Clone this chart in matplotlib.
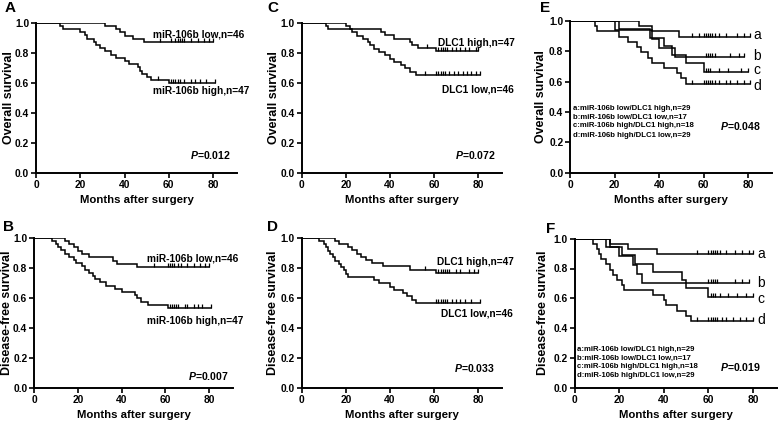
import numpy as np
import matplotlib
matplotlib.use("Agg")
import matplotlib.pyplot as plt
from matplotlib.path import Path

plt.rcParams['font.family'] = ['Liberation Sans', 'DejaVu Sans']
plt.rcParams['mathtext.fontset'] = 'custom'
plt.rcParams['mathtext.it'] = 'Liberation Sans:italic:bold'
plt.rcParams['mathtext.rm'] = 'Liberation Sans:bold'

# ---------------- data ----------------
# Panel A : overall survival by miR-106b
A_low_t = [31, 36, 38, 40, 44, 49]
A_low_s = [0.978, 0.957, 0.935, 0.913, 0.891, 0.870]
A_low_c = [56, 61, 63, 64, 65, 66, 67, 70, 73, 76, 78, 80]
A_high_t = [11, 12, 20, 22, 23, 26, 27, 29, 31, 34, 36, 40, 42, 46, 47, 48, 50, 52, 60]
A_high_s = [0.979, 0.957, 0.936, 0.915, 0.894, 0.872, 0.851, 0.830, 0.809, 0.787,
            0.766, 0.745, 0.723, 0.702, 0.681, 0.660, 0.638, 0.617, 0.596]
A_high_c = [55, 61, 62, 63, 64, 65, 67, 70, 72, 74, 77, 81]

# Panel B : disease-free survival by miR-106b
B_low_t = [14, 16, 18, 20, 22, 25, 36, 38, 47]
B_low_s = [0.978, 0.957, 0.935, 0.913, 0.891, 0.870, 0.848, 0.826, 0.804]
B_low_c = [55, 61, 62, 63, 64, 66, 67, 70, 73, 76, 78, 80]
B_high_t = [8, 10, 11, 12, 14, 16, 18, 19, 22, 23, 25, 27, 28, 30, 33, 37, 40, 46,
            47, 49, 52, 61]
B_high_s = [0.979, 0.957, 0.936, 0.915, 0.894, 0.872, 0.851, 0.830, 0.809, 0.787,
            0.766, 0.745, 0.723, 0.702, 0.681, 0.660, 0.638, 0.617, 0.596, 0.574,
            0.553, 0.532]
B_high_c = [62, 63, 64, 65, 66, 69, 70, 73, 75, 77, 81]

# Panel C : overall survival by DLC1
C_high_t = [20, 22, 36, 38, 42, 49, 50, 53, 61]
C_high_s = [0.979, 0.957, 0.936, 0.915, 0.894, 0.872, 0.851, 0.830, 0.809]
C_high_c = [57, 62, 63, 64, 65, 66, 68, 70, 72, 74, 76, 79, 80]
C_low_t = [11, 12, 23, 25, 28, 30, 31, 33, 35, 38, 40, 42, 45, 47, 49, 52]
C_low_s = [0.978, 0.957, 0.935, 0.913, 0.891, 0.870, 0.848, 0.826, 0.804, 0.783,
           0.761, 0.739, 0.717, 0.696, 0.674, 0.652]
C_low_c = [56, 61, 62, 63, 64, 65, 67, 69, 71, 73, 75, 77, 79, 81]

# Panel D : disease-free survival by DLC1
D_high_t = [15, 17, 21, 23, 25, 27, 29, 32, 37, 49, 61]
D_high_s = [0.979, 0.957, 0.936, 0.915, 0.894, 0.872, 0.851, 0.830, 0.809, 0.787, 0.766]
D_high_c = [56, 62, 63, 64, 65, 66, 67, 70, 72, 76, 78, 80]
D_low_t = [8, 10, 11, 12, 13, 14, 15, 17, 18, 19, 20, 21, 33, 35, 40, 42, 46, 48, 50, 52]
D_low_s = [0.978, 0.957, 0.935, 0.913, 0.891, 0.870, 0.848, 0.826, 0.804, 0.783,
           0.761, 0.739, 0.717, 0.696, 0.674, 0.652, 0.630, 0.609, 0.587, 0.565]
D_low_c = [61, 62, 63, 64, 65, 66, 68, 70, 72, 74, 77, 81]

# Panel E : overall survival, combined groups
E_a_t = [31, 37, 49]
E_a_s = [0.966, 0.931, 0.897]
E_a_c = [55, 58, 60, 61, 62, 63, 64, 65, 67, 70, 75, 78, 81]
E_b_t = [20, 37, 40, 47]
E_b_s = [0.941, 0.882, 0.824, 0.765]
E_b_c = [61, 62, 63, 64, 65, 72, 76, 78]
E_c_t = [22, 36, 42, 46, 52, 60]
E_c_s = [0.944, 0.889, 0.833, 0.778, 0.722, 0.667]
E_c_c = [61, 62, 63, 67, 71, 77, 80]
E_d_t = [11, 12, 22, 26, 30, 32, 35, 37, 42, 48, 50, 52]
E_d_s = [0.966, 0.931, 0.897, 0.862, 0.828, 0.793, 0.759, 0.724, 0.690, 0.655, 0.621, 0.586]
E_d_c = [55, 60, 61, 62, 63, 64, 65, 67, 70, 72, 75, 78, 81]

# Panel F : disease-free survival, combined groups
F_a_t = [16, 24, 37]
F_a_s = [0.966, 0.931, 0.897]
F_a_c = [55, 60, 61, 62, 63, 64, 65, 68, 72, 75, 78, 80]
F_b_t = [14, 20, 26, 28, 30]
F_b_s = [0.941, 0.882, 0.824, 0.765, 0.706]
F_b_c = [60, 61, 62, 63, 64, 72, 75, 78]
F_c_t = [16, 21, 27, 35, 48, 50, 60]
F_c_s = [0.944, 0.889, 0.833, 0.778, 0.722, 0.667, 0.611]
F_c_c = [61, 62, 63, 65, 69, 73, 77, 80]
F_d_t = [8, 10, 11, 12, 14, 16, 17, 19, 21, 22, 35, 40, 41, 46, 50, 52]
F_d_s = [0.966, 0.931, 0.897, 0.862, 0.828, 0.793, 0.759, 0.724, 0.690, 0.655,
         0.621, 0.586, 0.552, 0.517, 0.483, 0.448]
F_d_c = [55, 60, 61, 62, 63, 64, 66, 68, 71, 74, 77, 80]

x_ticks = [0, 20, 40, 60, 80]
y_ticks = [0.0, 0.2, 0.4, 0.6, 0.8, 1.0]
xlabel = "Months after surgery"
combo_legend = ["a:miR-106b low/DLC1 high,n=29",
                "b:miR-106b low/DLC1 low,n=17",
                "c:miR-106b high/DLC1 high,n=18",
                "d:miR-106b high/DLC1 low,n=29"]

# ---------------- drawing ----------------
W, H = 778, 424
fig = plt.figure(figsize=(W / 100, H / 100), dpi=100)

CENSOR = Path([(0, 0), (0, 1)])


def make_ax(x0, x80, ytop, ybot, ylabel, ylab_off, xmax=91):
    ppm = (x80 - x0) / 80.0
    width = ppm * xmax
    ax = fig.add_axes([x0 / W, 1 - ybot / H, width / W, (ybot - ytop) / H])
    ax.set_xlim(0, xmax)
    ax.set_ylim(0, 1.0)
    for s in ['top', 'right']:
        ax.spines[s].set_visible(False)
    for s in ['left', 'bottom']:
        ax.spines[s].set_linewidth(1.4)
    ax.set_xticks(x_ticks)
    ax.set_yticks(y_ticks)
    ax.set_yticklabels([f"{v:.1f}" for v in y_ticks])
    ax.tick_params(direction='out', length=3.5, width=1.2, labelsize=7.4, pad=1.5)
    for lab in ax.get_xticklabels() + ax.get_yticklabels():
        lab.set_fontweight('bold')
    ax.set_xlabel(xlabel, fontsize=8.2, fontweight='bold', labelpad=4)
    ax.set_ylabel(ylabel, fontsize=8.9, fontweight='bold', va='center')
    ax.yaxis.set_label_coords(-ylab_off / width, 0.5)
    return ax


def km(ax, t, s, c):
    t = np.asarray(t, float)
    s = np.asarray(s, float)
    end = max(c)
    xs = np.concatenate([[0], t, [end]])
    ys = np.concatenate([[1.0], s, [s[-1]]])
    ax.step(xs, ys, where='post', color='black', lw=1.1, solid_joinstyle='miter')
    idx = np.searchsorted(t, c, side='right')
    cy = np.concatenate([[1.0], s])[idx]
    ax.plot(c, cy, linestyle='none', marker=CENSOR, markersize=5.5,
            markeredgewidth=0.9, color='black')


def ptext(ax, x, y, val):
    ax.text(x, y, r'$P$' + f'={val}', fontsize=7.6, fontweight='bold',
            va='center', ha='left')


def label(txt, x, y):
    fig.text(x / W, 1 - y / H, txt, fontsize=11, fontweight='bold',
             ha='center', va='center')


# A
axA = make_ax(36, 213, 22.7, 172.7, "Overall survival", 27)
km(axA, A_low_t, A_low_s, A_low_c)
km(axA, A_high_t, A_high_s, A_high_c)
axA.text(53, 0.922, "miR-106b low,n=46", fontsize=7.3, fontweight='bold', va='center')
axA.text(53, 0.547, "miR-106b high,n=47", fontsize=7.3, fontweight='bold', va='center')
ptext(axA, 69.7, 0.118, "0.012")
label("A", 10, 8.5)

# B
axB = make_ax(34.3, 209, 237.7, 387.7, "Disease-free survival", 27)
km(axB, B_low_t, B_low_s, B_low_c)
km(axB, B_high_t, B_high_s, B_high_c)
axB.text(51.5, 0.86, "miR-106b low,n=46", fontsize=7.3, fontweight='bold', va='center')
axB.text(51.5, 0.447, "miR-106b high,n=47", fontsize=7.3, fontweight='bold', va='center')
ptext(axB, 70.5, 0.078, "0.007")
label("B", 8.5, 227)

# C
axC = make_ax(301.7, 478, 22.7, 172.7, "Overall survival", 28)
km(axC, C_high_t, C_high_s, C_high_c)
km(axC, C_low_t, C_low_s, C_low_c)
axC.text(62, 0.865, "DLC1 high,n=47", fontsize=7.3, fontweight='bold', va='center')
axC.text(63.6, 0.556, "DLC1 low,n=46", fontsize=7.3, fontweight='bold', va='center')
ptext(axC, 69.4, 0.118, "0.072")
label("C", 273, 7.5)

# D
axD = make_ax(301.7, 478, 237.7, 387.7, "Disease-free survival", 29)
km(axD, D_high_t, D_high_s, D_high_c)
km(axD, D_low_t, D_low_s, D_low_c)
axD.text(61.6, 0.835, "DLC1 high,n=47", fontsize=7.3, fontweight='bold', va='center')
axD.text(63.4, 0.497, "DLC1 low,n=46", fontsize=7.3, fontweight='bold', va='center')
ptext(axD, 69.1, 0.134, "0.033")
label("D", 273, 227)

# E
axE = make_ax(570.3, 748, 21, 172.7, "Overall survival", 29)
for t, s, c in [(E_a_t, E_a_s, E_a_c), (E_b_t, E_b_s, E_b_c),
                (E_c_t, E_c_s, E_c_c), (E_d_t, E_d_s, E_d_c)]:
    km(axE, t, s, c)
for txt, yy in zip(combo_legend, [0.424, 0.365, 0.308, 0.248]):
    axE.text(1.2, yy, txt, fontsize=5.6, fontweight='bold', va='center')
ptext(axE, 67.3, 0.308, "0.048")
for L, yy in zip("abcd", [0.905, 0.767, 0.675, 0.571]):
    axE.text(82.3, yy, L, fontsize=10, va='center', ha='left')
label("E", 545, 7.5)

# F
axF = make_ax(574.7, 753, 238.7, 387.7, "Disease-free survival", 31.5)
for t, s, c in [(F_a_t, F_a_s, F_a_c), (F_b_t, F_b_s, F_b_c),
                (F_c_t, F_c_s, F_c_c), (F_d_t, F_d_s, F_d_c)]:
    km(axF, t, s, c)
for txt, yy in zip(combo_legend, [0.258, 0.198, 0.142, 0.083]):
    axF.text(1.2, yy, txt, fontsize=5.6, fontweight='bold', va='center')
ptext(axF, 65, 0.142, "0.019")
for L, yy in zip("abcd", [0.899, 0.703, 0.597, 0.452]):
    axF.text(81.8, yy, L, fontsize=10, va='center', ha='left')
label("F", 551, 229)

fig.savefig("out.png", dpi=100)
